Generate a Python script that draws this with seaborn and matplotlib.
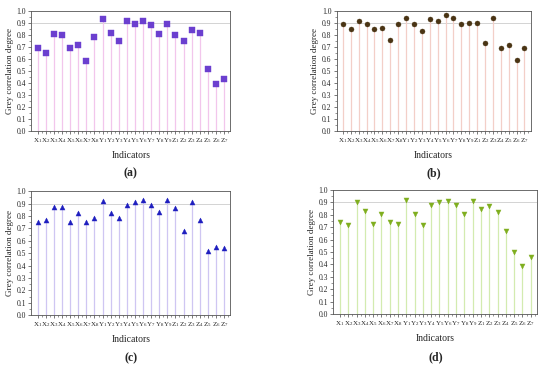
import numpy as np
import pandas as pd
import matplotlib
matplotlib.use('Agg')
import matplotlib.pyplot as plt
import seaborn as sns
from matplotlib.ticker import MultipleLocator

# Indicators
indicators = ['X1', 'X2', 'X3', 'X4', 'X5', 'X6', 'X7', 'X8',
              'Y1', 'Y2', 'Y3', 'Y4', 'Y5', 'Y6', 'Y7', 'Y8', 'Y9',
              'Z1', 'Z2', 'Z3', 'Z4', 'Z5', 'Z6', 'Z7']
tick_labels = [r'$\mathregular{%s_{%s}}$' % (s[0], s[1:]) for s in indicators]

# Grey correlation degree, one list per panel
grey_a = [0.69, 0.65, 0.81, 0.80, 0.69, 0.72, 0.58, 0.78,
          0.93, 0.82, 0.75, 0.92, 0.89, 0.92, 0.88, 0.81, 0.89,
          0.80, 0.75, 0.84, 0.82, 0.52, 0.39, 0.43]
grey_b = [0.89, 0.85, 0.92, 0.89, 0.85, 0.86, 0.76, 0.89,
          0.94, 0.89, 0.83, 0.93, 0.92, 0.97, 0.94, 0.89, 0.90,
          0.90, 0.73, 0.94, 0.69, 0.72, 0.59, 0.69]
grey_c = [0.75, 0.77, 0.87, 0.87, 0.75, 0.82, 0.75, 0.78,
          0.92, 0.82, 0.78, 0.89, 0.91, 0.93, 0.89, 0.83, 0.93,
          0.86, 0.68, 0.91, 0.77, 0.52, 0.55, 0.54]
grey_d = [0.74, 0.72, 0.90, 0.83, 0.73, 0.81, 0.74, 0.73,
          0.92, 0.81, 0.72, 0.88, 0.90, 0.91, 0.88, 0.81, 0.91,
          0.85, 0.87, 0.82, 0.67, 0.50, 0.39, 0.46]
y_ticks = [0.0, 0.1, 0.2, 0.3, 0.4, 0.5, 0.6, 0.7, 0.8, 0.9, 1.0]

panels = [
    ('(a)', grey_a, 's', '#6b3fcf', '#f2c6ec', [0.057, 0.645, 0.362, 0.325]),
    ('(b)', grey_b, 'o', '#4a3414', '#f3cfc8', [0.612, 0.645, 0.353, 0.325]),
    ('(c)', grey_c, '^', '#1f1fbf', '#cfc6f2', [0.057, 0.146, 0.362, 0.336]),
    ('(d)', grey_d, 'v', '#7fae1f', '#d3ebb0', [0.606, 0.149, 0.371, 0.336]),
]

sns.set_theme(style='ticks')
plt.rcParams['font.family'] = ['Liberation Serif', 'DejaVu Serif']
plt.rcParams['mathtext.fontset'] = 'custom'
plt.rcParams['mathtext.rm'] = 'Liberation Serif'

fig = plt.figure(figsize=(5.5, 3.69), dpi=100)

for label, values, marker, mcolor, scolor, rect in panels:
    ax = fig.add_axes(rect)
    df = pd.DataFrame({'indicator': indicators, 'value': values})
    x = np.arange(len(indicators))
    ax.axhline(0.9, color='#cccccc', lw=0.6, zorder=1)
    ax.vlines(x, 0, df['value'], color=scolor, lw=0.9, zorder=2)
    sns.scatterplot(x=x, y=df['value'], marker=marker, color=mcolor, s=13,
                    edgecolor=mcolor, linewidth=0.3, ax=ax, zorder=3, legend=False)
    ax.set_xlim(-0.8, len(indicators) - 0.2)
    ax.set_ylim(0, 1.0)
    ax.set_yticks(y_ticks)
    ax.set_yticklabels(['%.1f' % v for v in y_ticks], fontsize=5.5)
    ax.yaxis.set_minor_locator(MultipleLocator(0.05))
    ax.set_xticks(x)
    ax.set_xticklabels(tick_labels, fontsize=5.0)
    ax.set_xticks(x + 0.5, minor=True)
    ax.tick_params(axis='both', which='major', length=2.2, width=0.5, pad=1.5,
                   color='#444444')
    ax.tick_params(axis='both', which='minor', length=1.3, width=0.4, color='#444444')
    for sp in ax.spines.values():
        sp.set_visible(True)
        sp.set_linewidth(0.6)
        sp.set_color('#555555')
    ax.set_ylabel('Grey correlation degree', fontsize=6.5, labelpad=2)
    ax.set_xlabel('Indicators', fontsize=7, labelpad=4)
    ax.text(0.5, -0.3, label, transform=ax.transAxes, ha='center', va='top',
            fontsize=8.5, fontweight='bold')

fig.savefig('out.png', dpi=100)
